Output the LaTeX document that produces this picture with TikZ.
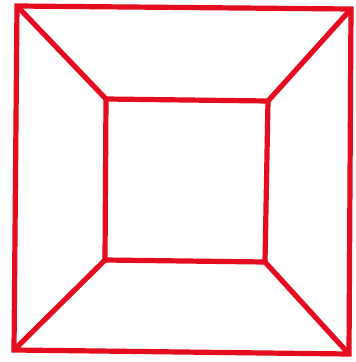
\documentclass[tikz,border=0pt]{standalone}
\definecolor{frame}{RGB}{228,12,30}
\begin{document}
\begin{tikzpicture}[x=1pt, y=-1pt, every path/.style={line width=5.2pt, draw=frame, line join=miter}]
  \useasboundingbox[draw=none] (0,0) rectangle (356,362);

  \coordinate (oa) at (17,6);
  \coordinate (ob) at (351,9);
  \coordinate (oc) at (349,354);
  \coordinate (od) at (14,350);

  \coordinate (ia) at (106,99);
  \coordinate (ib) at (268,101);
  \coordinate (ic) at (265,262);
  \coordinate (id) at (105,260);

  \draw (oa) -- (ob) -- (oc) -- (od) -- cycle;
  \draw (ia) -- (ib) -- (ic) -- (id) -- cycle;

  \draw (oa) -- (ia);
  \draw (ob) -- (ib);
  \draw (oc) -- (ic);
  \draw (od) -- (id);
\end{tikzpicture}
\end{document}
